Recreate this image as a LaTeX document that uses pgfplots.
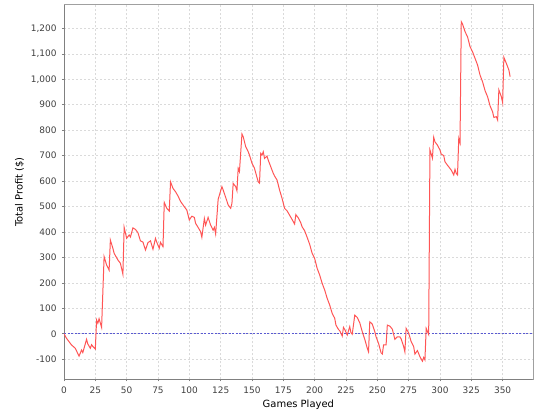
\documentclass[border=0pt]{standalone}
\usepackage{fontspec}
\setmainfont{DejaVu Sans}
\usepackage{pgfplots}
\pgfplotsset{compat=1.18}

\definecolor{series}{RGB}{255,85,85}
\definecolor{gridc}{RGB}{218,218,218}
\definecolor{outline}{RGB}{160,160,160}
\definecolor{axisc}{RGB}{128,128,128}
\definecolor{tickc}{RGB}{64,64,64}
\definecolor{zeroc}{RGB}{90,90,210}

\begin{document}
\begin{tikzpicture}
\path[use as bounding box] (0,0) rectangle (540bp,420bp);
\begin{axis}[
    at={(64bp,40.7bp)}, anchor=south west,
    scale only axis,
    width=468.7bp, height=374.6bp,
    xmin=0, xmax=374, ymin=-179, ymax=1293,
    xtick={0,25,...,350},
    ytick={-100,0,...,1200},
    /pgf/number format/.cd, 1000 sep={,}, assume math mode=true,
    /pgfplots/.cd,
    axis line style={outline},
    tick align=outside,
    major tick length=2bp,
    tick style={axisc, line width=0.5bp},
    xtick pos=bottom, ytick pos=left,
    grid=major,
    major grid style={gridc, line width=0.5bp, dash pattern=on 2bp off 2bp},
    tick label style={font=\fontsize{9}{10}\selectfont, text=tickc},
    x tick label style={yshift=-2.5bp},
    y tick label style={xshift=-2bp},
    label style={font=\fontsize{11.3}{13}\selectfont},
    xlabel={Games Played},
    ylabel={Total Profit (\$)},
    every axis x label/.style={at={(axis description cs:0.5,0)}, yshift=-25.7bp, anchor=center},
    every axis y label/.style={at={(axis description cs:0,0.5)}, xshift=-44.5bp, rotate=90, anchor=center},
]
\draw[axisc, line width=0.8bp] (rel axis cs:0,1) -- (rel axis cs:0,0) -- (rel axis cs:1,0);
\addplot[zeroc, line width=0.6bp, dash pattern=on 2bp off 1.5bp, forget plot] coordinates {(0,0) (374,0)};
\addplot[series, line width=1bp, mark=none] coordinates {
(0,0) (2,-18) (6,-44) (9,-57) (12,-88) (14,-64) (15,-74) (18,-22) (19,-40)
(21,-57) (22,-43) (23,-50) (25,-60) (26,54) (27,41) (28,59) (30,25)
(32,303) (34,270) (36,250) (37,368) (39,336) (40,316) (43,290) (45,277)
(47,234) (48,418) (50,375) (52,388) (53,380) (55,416) (57,410) (59,397)
(61,365) (63,360) (65,329) (67,358) (69,365) (71,332) (73,375) (74,360)
(76,336) (77,359) (79,342) (80,516) (82,493) (84,482) (85,597) (87,571)
(89,558) (91,541) (93,520) (95,506) (98,486) (100,447) (102,462) (104,457)
(105,434) (107,418) (109,401) (110,379) (112,453) (113,427) (115,457)
(117,427) (119,407) (120,418) (121,392) (123,528) (124,545) (126,578)
(127,565) (129,536) (131,506) (133,493) (134,512) (135,591) (137,578)
(138,562) (139,650) (140,637) (142,785) (143,774) (145,735) (147,715)
(148,702) (150,670) (152,650) (154,614) (155,597) (156,592) (157,709)
(158,702) (159,715) (160,689) (162,698) (163,682) (165,656) (167,630)
(168,620) (170,604) (172,565) (174,532) (176,493) (178,483) (180,466)
(182,449) (184,431) (185,468) (187,455) (189,435) (190,420) (192,405)
(194,379) (196,352) (198,316) (200,296) (202,257) (204,231) (206,198)
(208,172) (210,139) (212,113) (214,80) (216,61) (217,34) (219,17)
(220,12) (222,-9) (223,25) (224,17) (226,-5) (228,28) (229,4) (230,-2)
(232,73) (234,64) (236,43) (238,8) (240,-22) (242,-57) (243,-71) (244,47)
(246,38) (248,8) (249,-12) (251,-38) (253,-75) (254,-80) (255,-44)
(257,-44) (258,34) (260,30) (262,18) (264,-22) (266,-12) (268,-12)
(269,-20) (271,-50) (272,-71) (273,21) (275,3) (277,-31) (279,-50)
(280,-80) (282,-66) (284,-90) (286,-108) (287,-93) (288,-103) (289,21)
(291,-3) (292,722) (294,690) (295,772) (296,754) (298,741) (300,722)
(301,706) (303,700) (304,676) (306,662) (307,656) (309,643) (311,624)
(312,646) (313,630) (314,624) (315,768) (316,750) (317,1226) (318,1217)
(320,1187) (322,1167) (324,1128) (326,1108) (328,1082) (330,1056)
(332,1016) (334,990) (336,955) (338,931) (340,895) (342,872) (343,850)
(345,853) (346,840) (347,958) (349,931) (350,908) (351,1086) (353,1062)
(355,1036) (356,1010)
};
\end{axis}
\end{tikzpicture}
\end{document}
